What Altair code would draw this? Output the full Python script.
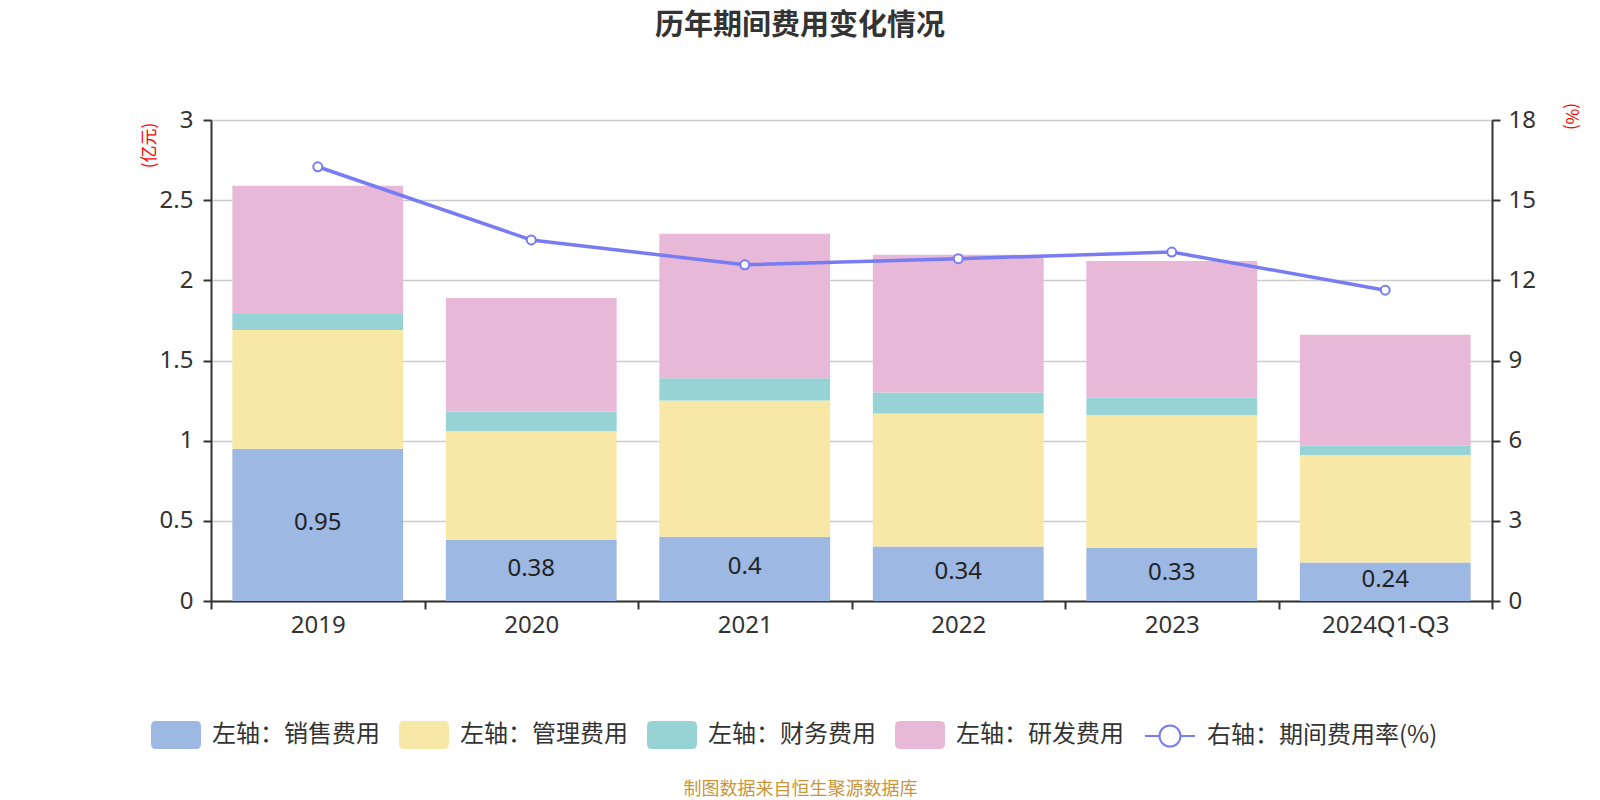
import altair as alt
import pandas as pd

years = ["2019", "2020", "2021", "2022", "2023", "2024Q1-Q3"]
sales = [0.95, 0.38, 0.40, 0.34, 0.33, 0.24]
admin = [0.74, 0.68, 0.85, 0.83, 0.83, 0.67]
finance = [0.10, 0.12, 0.14, 0.13, 0.11, 0.06]
rnd = [0.80, 0.71, 0.90, 0.86, 0.85, 0.69]
rate = [16.25, 13.51, 12.58, 12.81, 13.06, 11.63]

series_names = ["左轴：销售费用", "左轴：管理费用", "左轴：财务费用", "左轴：研发费用"]
series_colors = ["#9db8e2", "#f8e8a8", "#97d3d4", "#e8b8d8"]
line_name = "右轴：期间费用率(%)"
line_color = "#777cf2"

title_text = "历年期间费用变化情况"
footer_text = "制图数据来自恒生聚源数据库"
left_unit = "(亿元)"
right_unit = "(%)"
left_ticks = [0, 0.5, 1, 1.5, 2, 2.5, 3]
right_ticks = [0, 3, 6, 9, 12, 15, 18]

FONT = "Noto Sans, Noto Sans CJK SC"
CJK = "Noto Sans CJK SC"

rows = []
for i, y in enumerate(years):
    for k, (name, vals) in enumerate(zip(series_names, [sales, admin, finance, rnd])):
        rows.append({"year": y, "series": name, "value": vals[i], "order": k})
bar_df = pd.DataFrame(rows)
sales_df = pd.DataFrame({"year": years, "sales": sales})
line_df = pd.DataFrame({"year": years, "rate": rate, "series": [line_name] * len(years)})

RRECT = ("M-0.8,-0.56 L0.8,-0.56 Q1,-0.56 1,-0.36 L1,0.36 Q1,0.56 0.8,0.56 "
         "L-0.8,0.56 Q-1,0.56 -1,0.36 L-1,-0.36 Q-1,-0.56 -0.8,-0.56 Z")
LINESYM = ("M-1,0 L-0.42,0 M0.42,0 A0.42,0.42 0 1,1 -0.42,0 "
           "A0.42,0.42 0 1,1 0.42,0 M0.42,0 L1,0")

x_axis = alt.Axis(
    title=footer_text,
    titleColor="#c8963a",
    titleFont=CJK,
    titleFontSize=18,
    titleFontWeight="normal",
    titleX=589,
    titleY=188,
    titleAlign="center",
    titleBaseline="middle",
    labelAngle=0,
    labelFont=FONT,
    labelFontSize=24,
    labelColor="#333333",
    labelPadding=4,
    tickBand="extent",
    tickSize=8,
    tickWidth=2,
    tickColor="#333333",
    domainColor="#333333",
    domainWidth=2,
    grid=False,
)
x_scale = alt.Scale(paddingInner=0, paddingOuter=0)

left_axis = alt.Axis(
    orient="left",
    values=left_ticks,
    format=".1~f",
    title=left_unit,
    titleColor="red",
    titleFont=CJK,
    titleFontSize=17,
    titleFontWeight="normal",
    titleAngle=-90,
    titleX=-62,
    titleY=25,
    titleAlign="center",
    titleBaseline="middle",
    labelFont=FONT,
    labelFontSize=24,
    labelColor="#333333",
    labelPadding=10,
    tickSize=8,
    tickWidth=2,
    tickColor="#333333",
    domainColor="#333333",
    domainWidth=2,
    grid=True,
    gridColor="#cccccc",
    gridWidth=1.5,
)

right_axis = alt.Axis(
    orient="right",
    values=right_ticks,
    title=right_unit,
    titleColor="red",
    titleFont=CJK,
    titleFontSize=17,
    titleFontWeight="normal",
    titleAngle=90,
    titleX=78,
    titleY=-4,
    titleAlign="center",
    titleBaseline="middle",
    labelFont=FONT,
    labelFontSize=24,
    labelColor="#333333",
    labelPadding=8,
    tickSize=8,
    tickWidth=2,
    tickColor="#333333",
    domainColor="#333333",
    domainWidth=2,
    grid=False,
)

left_scale = alt.Scale(domain=[0, 3], nice=False)
right_scale = alt.Scale(domain=[0, 18], nice=False)

bars = alt.Chart(bar_df).mark_bar(width=alt.RelativeBandSize(band=0.8)).encode(
    x=alt.X("year:N", sort=years, scale=x_scale, axis=x_axis),
    y=alt.Y("value:Q", stack="zero", scale=left_scale, axis=left_axis),
    color=alt.Color(
        "series:N",
        scale=alt.Scale(domain=series_names, range=series_colors),
        legend=alt.Legend(
            orient="none",
            legendX=-60,
            legendY=590,
            direction="horizontal",
            columns=4,
            title=None,
            symbolType=RRECT,
            symbolSize=2500,
            symbolStrokeWidth=0,
            symbolOpacity=1,
            labelFont=CJK,
            labelFontSize=24,
            labelColor="#333333",
            labelOffset=11,
            columnPadding=19,
            labelLimit=400,
            padding=0,
        ),
    ),
    order=alt.Order("order:Q", sort="ascending"),
)

labels = alt.Chart(sales_df).transform_calculate(mid="datum.sales / 2").mark_text(
    font=FONT, fontSize=24, color="#222222", baseline="middle", align="center", dy=-2
).encode(
    x=alt.X("year:N", sort=years, scale=x_scale, axis=x_axis),
    y=alt.Y("mid:Q", scale=left_scale, axis=left_axis),
    text=alt.Text("sales:Q", format=".2~f"),
)

left = alt.layer(bars, labels)

line = alt.Chart(line_df).mark_line(strokeWidth=3.5).encode(
    x=alt.X("year:N", sort=years, scale=x_scale, axis=x_axis),
    y=alt.Y("rate:Q", scale=right_scale, axis=right_axis),
    stroke=alt.Stroke(
        "series:N",
        scale=alt.Scale(domain=[line_name], range=[line_color]),
        legend=alt.Legend(
            orient="none",
            legendX=933,
            legendY=590,
            title=None,
            symbolType=LINESYM,
            symbolSize=2500,
            symbolStrokeWidth=2,
            symbolFillColor="white",
            labelFont=CJK,
            labelFontSize=24,
            labelColor="#333333",
            labelOffset=11,
            labelLimit=400,
            padding=0,
        ),
    ),
)

points = alt.Chart(line_df).mark_point(
    shape="circle", filled=True, fill="white", stroke=line_color,
    strokeWidth=2, size=80, opacity=1
).encode(
    x=alt.X("year:N", sort=years, scale=x_scale, axis=x_axis),
    y=alt.Y("rate:Q", scale=right_scale, axis=right_axis),
)

right = alt.layer(line, points)

chart = alt.layer(left, right).resolve_scale(y="independent").properties(
    width=1281,
    height=481,
    title=alt.TitleParams(
        text=title_text,
        font=CJK,
        fontSize=29,
        fontWeight="bold",
        color="#333333",
        anchor="middle",
        frame="group",
        dx=-51.5,
        offset=61,
    ),
    autosize=alt.AutoSizeParams(type="none"),
    padding={"left": 203, "top": 112, "right": 100, "bottom": 198},
).configure_view(stroke=None)

chart.save("out.html", embed_options={"renderer": "svg", "actions": False})
